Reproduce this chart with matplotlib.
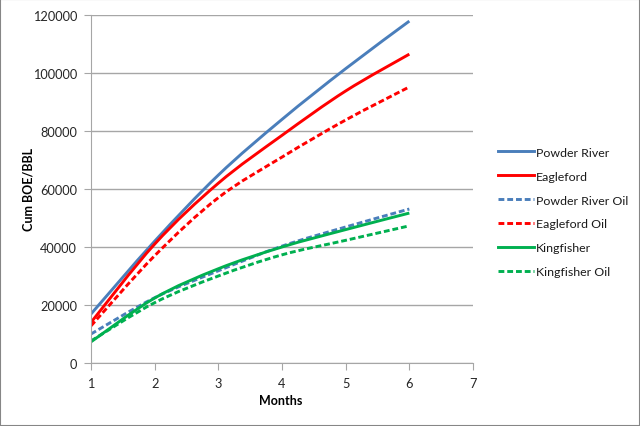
import matplotlib
matplotlib.use("Agg")
import matplotlib.pyplot as plt
from matplotlib.path import Path
from matplotlib.patches import PathPatch, Rectangle
from matplotlib.lines import Line2D

months = [1, 2, 3, 4, 5, 6]
powder_river = [16900, 42000, 64800, 84000, 101500, 117900]
eagleford = [14000, 41000, 62000, 78500, 93800, 106500]
powder_river_oil = [10000, 22500, 31800, 40300, 46900, 53100]
eagleford_oil = [12800, 37000, 57000, 71000, 83800, 95200]
kingfisher = [7300, 22400, 32500, 40000, 46000, 51700]
kingfisher_oil = [7600, 20800, 30000, 37300, 42300, 47300]

series = [
    ("Powder River", powder_river, "#4A7EBB", "-"),
    ("Eagleford", eagleford, "#FF0000", "-"),
    ("Powder River Oil", powder_river_oil, "#4A7EBB", (0, (2, 1))),
    ("Eagleford Oil", eagleford_oil, "#FF0000", (0, (2, 1))),
    ("Kingfisher", kingfisher, "#00B050", "-"),
    ("Kingfisher Oil", kingfisher_oil, "#00B050", (0, (2, 1))),
]

plt.rcParams['font.family'] = ['Lato', 'DejaVu Sans']

fig = plt.figure(figsize=(6.4, 4.27), dpi=100)
ax = fig.add_axes([91/640, 1-364/427, (473-91)/640, (364-16)/427])


def smooth_path(xs, ys):
    # Excel-style smoothed line (Catmull-Rom as cubic Bezier)
    verts = [(xs[0], ys[0])]
    codes = [Path.MOVETO]
    n = len(xs)
    for i in range(n - 1):
        x0, y0 = (xs[i-1], ys[i-1]) if i > 0 else (xs[i], ys[i])
        x1, y1 = xs[i], ys[i]
        x2, y2 = xs[i+1], ys[i+1]
        x3, y3 = (xs[i+2], ys[i+2]) if i + 2 < n else (xs[i+1], ys[i+1])
        c1 = (x1 + (x2 - x0) / 6, y1 + (y2 - y0) / 6)
        c2 = (x2 - (x3 - x1) / 6, y2 - (y3 - y1) / 6)
        verts += [c1, c2, (x2, y2)]
        codes += [Path.CURVE4] * 3
    return Path(verts, codes)


handles = []
for label, vals, color, ls in series:
    p = PathPatch(smooth_path(months, vals), facecolor='none', edgecolor=color,
                  lw=2.1, linestyle=ls, capstyle='butt', joinstyle='round')
    ax.add_patch(p)
    handles.append(Line2D([], [], color=color, lw=2.1, linestyle=ls, label=label))

ax.set_xlim(1, 7)
ax.set_ylim(0, 120000)
ax.set_xticks(range(1, 8))
ax.set_yticks(range(0, 120001, 20000))
ax.yaxis.grid(True, color='#A6A6A6', lw=1)
ax.set_axisbelow(True)
for s in ['top', 'right']:
    ax.spines[s].set_visible(False)
for s in ['left', 'bottom']:
    ax.spines[s].set_color('#A6A6A6')
ax.tick_params(axis='both', colors='#A6A6A6', labelcolor='#262626', length=5,
               labelsize=9.2)
ax.tick_params(axis='y', pad=5)
ax.tick_params(axis='x', pad=5)

ax.set_xlabel("Months", fontweight='bold', fontsize=9, color='#000000')
ax.set_ylabel("Cum BOE/BBL", fontweight='bold', fontsize=9, color='#000000')
ax.yaxis.set_label_coords((29 - 91) / 382, 0.5)
ax.xaxis.set_label_coords((281 - 91) / 382, -(401 - 364) / 348)
ax.xaxis.label.set_verticalalignment('center')
ax.yaxis.label.set_verticalalignment('center')

leg = fig.legend(handles=handles, loc='center left', bbox_to_anchor=(487/640, 1-213/427),
                 frameon=False, fontsize=8.9, handlelength=2.9, handletextpad=0.15,
                 labelspacing=1.05)
for t in leg.get_texts():
    t.set_color('#1a1a1a')

fig.patches.append(Rectangle((0, 0), 1, 1, transform=fig.transFigure, fill=False,
                             edgecolor='#868686', lw=1.5))

fig.savefig("out.png", dpi=100)
